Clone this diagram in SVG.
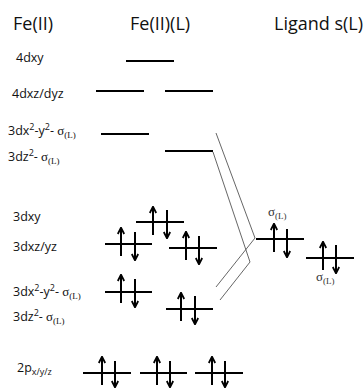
<svg xmlns="http://www.w3.org/2000/svg" width="364" height="388" viewBox="0 0 364 388">
<defs>
<style>
.ttl{font-family:"Open Sans","Liberation Sans",sans-serif;font-size:18px;fill:#111}
.lbl{font-family:"Open Sans","Liberation Sans",sans-serif;font-size:12.5px;fill:#111}
.sup{font-size:9px}
.sig{font-family:"Liberation Serif",serif;font-size:13px}
.sub{font-family:"Liberation Serif",serif;font-size:9px}
.sigl{font-family:"Liberation Serif",serif;font-size:13px;fill:#333}
.subl{font-family:"Liberation Serif",serif;font-size:9px;fill:#333}
.lvl{stroke:#000;stroke-width:2;fill:none}
.arr{stroke:#000;stroke-width:2;fill:none;marker-end:url(#ah)}
.con{stroke:#555;stroke-width:0.9;fill:none}
</style>
<marker id="ah" viewBox="0 0 10 10" refX="8.5" refY="5" markerWidth="8" markerHeight="8" markerUnits="userSpaceOnUse" orient="auto">
<path d="M1,1 L9,5 L1,9" fill="none" stroke="#000" stroke-width="2.2"/>
</marker>
</defs>

<g id="titles">
<text class="ttl" x="13" y="30">Fe(II)</text>
<text class="ttl" x="130" y="30">Fe(II)(L)</text>
<text class="ttl" x="274" y="30">Ligand s(L)</text>
</g>

<g id="labels">
<text class="lbl" x="16" y="62">4dxy</text>
<text class="lbl" x="12" y="98">4dxz/dyz</text>
<text class="lbl" x="8" y="135">3dx<tspan class="sup" dy="-5">2</tspan><tspan dy="5">-y</tspan><tspan class="sup" dy="-5">2</tspan><tspan dy="5">- </tspan><tspan class="sig">σ</tspan><tspan class="sub" dy="3">(L)</tspan></text>
<text class="lbl" x="8" y="161">3dz<tspan class="sup" dy="-5">2</tspan><tspan dy="5">- </tspan><tspan class="sig">σ</tspan><tspan class="sub" dy="3">(L)</tspan></text>
<text class="lbl" x="13" y="221">3dxy</text>
<text class="lbl" x="13" y="251">3dxz/yz</text>
<text class="lbl" x="13" y="296">3dx<tspan class="sup" dy="-5">2</tspan><tspan dy="5">-y</tspan><tspan class="sup" dy="-5">2</tspan><tspan dy="5">- </tspan><tspan class="sig">σ</tspan><tspan class="sub" dy="3">(L)</tspan></text>
<text class="lbl" x="13" y="321">3dz<tspan class="sup" dy="-5">2</tspan><tspan dy="5">- </tspan><tspan class="sig">σ</tspan><tspan class="sub" dy="3">(L)</tspan></text>
<text class="lbl" x="17" y="372">2p<tspan class="sup" dy="3">x/y/z</tspan></text>
</g>

<g id="connectors">
<polyline class="con" points="216,133 255,238 216,287"/>
<polyline class="con" points="213,152 250,262 220,300"/>
</g>

<g id="lvl-4dxy"><line class="lvl" x1="126" y1="61" x2="174" y2="61"/></g>
<g id="lvl-4dxz"><line class="lvl" x1="96" y1="91" x2="144" y2="91"/></g>
<g id="lvl-4dyz"><line class="lvl" x1="165" y1="91" x2="213" y2="91"/></g>
<g id="lvl-3dx2y2-up"><line class="lvl" x1="101" y1="134" x2="149" y2="134"/></g>
<g id="lvl-3dz2-up"><line class="lvl" x1="165" y1="151" x2="213" y2="151"/></g>

<g id="lvl-3dxy">
<line class="lvl" x1="136" y1="222" x2="184" y2="222"/>
<line class="arr" x1="153" y1="235" x2="153" y2="207"/>
<line class="arr" x1="167" y1="210" x2="167" y2="238"/>
</g>
<g id="lvl-3dxz">
<line class="lvl" x1="105" y1="244" x2="152" y2="244"/>
<line class="arr" x1="121" y1="256" x2="121" y2="228"/>
<line class="arr" x1="135" y1="232" x2="135" y2="260"/>
</g>
<g id="lvl-3dyz">
<line class="lvl" x1="169" y1="248" x2="217" y2="248"/>
<line class="arr" x1="186" y1="260" x2="186" y2="232"/>
<line class="arr" x1="199" y1="236" x2="199" y2="264"/>
</g>
<g id="lvl-3dx2y2-low">
<line class="lvl" x1="105" y1="292" x2="152" y2="292"/>
<line class="arr" x1="121" y1="303" x2="121" y2="275"/>
<line class="arr" x1="135" y1="279" x2="135" y2="307"/>
</g>
<g id="lvl-3dz2-low">
<line class="lvl" x1="166" y1="309" x2="213" y2="309"/>
<line class="arr" x1="181" y1="321" x2="181" y2="293"/>
<line class="arr" x1="195" y1="296" x2="195" y2="324"/>
</g>

<g id="lvl-sigma1">
<line class="lvl" x1="256" y1="239" x2="304" y2="239"/>
<line class="arr" x1="274" y1="252" x2="274" y2="224"/>
<line class="arr" x1="287" y1="229" x2="287" y2="257"/>
<text x="268" y="216"><tspan class="sigl">σ</tspan><tspan class="subl" dy="3">(L)</tspan></text>
</g>
<g id="lvl-sigma2">
<line class="lvl" x1="306" y1="258" x2="354" y2="258"/>
<line class="arr" x1="323" y1="270" x2="323" y2="242"/>
<line class="arr" x1="336" y1="245" x2="336" y2="273"/>
<text x="316" y="281"><tspan class="sigl">σ</tspan><tspan class="subl" dy="3">(L)</tspan></text>
</g>

<g id="lvl-2px">
<line class="lvl" x1="83" y1="373" x2="131" y2="373"/>
<line class="arr" x1="102" y1="385" x2="102" y2="357"/>
<line class="arr" x1="115" y1="361" x2="115" y2="387"/>
</g>
<g id="lvl-2py">
<line class="lvl" x1="140" y1="373" x2="187" y2="373"/>
<line class="arr" x1="157" y1="385" x2="157" y2="357"/>
<line class="arr" x1="170" y1="361" x2="170" y2="387"/>
</g>
<g id="lvl-2pz">
<line class="lvl" x1="195" y1="373" x2="243" y2="373"/>
<line class="arr" x1="212" y1="385" x2="212" y2="357"/>
<line class="arr" x1="225" y1="361" x2="225" y2="387"/>
</g>
</svg>
